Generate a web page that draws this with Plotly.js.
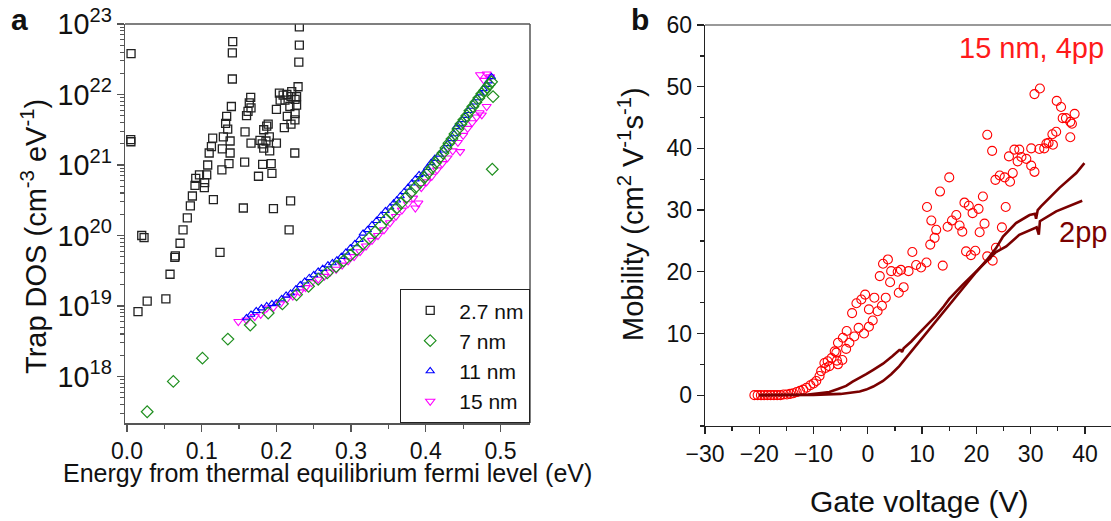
<!DOCTYPE html>
<html>
<head>
<meta charset="utf-8">
<script src="https://cdn.plot.ly/plotly-3.0.1.min.js"></script>
<style>html,body{margin:0;padding:0;background:#fff;}#chart{width:1111px;height:521px;}</style>
</head>
<body>
<div id="chart"></div>
<script>
// ---------- Panel a : trap DOS (log10 values) ----------
const sq27E = [0.0054,0.005,0.0052,0.0197,0.0228,0.1415,0.141,0.141,0.1397,0.1334,0.132,0.1348,0.129,0.138,0.1276,0.138,0.1365,0.127,
  0.1147,0.113,0.11,0.108,0.1067,0.097,0.092,0.104,0.091,0.1035,0.0875,0.0848,0.0807,0.075,0.071,0.0647,0.1156,0.1245,
  0.064,0.0576,0.052,0.027,0.0147,
  0.1656,0.1637,0.166,0.160,0.162,0.158,0.166,0.1575,0.1557,
  0.189,0.187,0.183,0.1905,0.178,0.181,0.186,0.200,0.183,0.191,0.1816,0.193,0.176,0.194,0.196,
  0.204,0.209,0.214,0.2205,0.2195,0.205,0.2115,0.225,0.227,0.200,0.218,0.227,0.2146,0.225,0.2248,0.2106,0.2195,
  0.2307,0.2307,0.230,0.229,0.2246,0.219,0.217];
const sq27Log = [22.58,21.36,21.33,20.00,19.97,22.75,22.59,22.22,21.83,21.69,21.59,21.51,21.40,21.34,21.23,21.17,21.02,20.93,
  21.38,21.26,21.17,21.00,20.86,20.86,20.81,20.75,20.71,20.68,20.56,20.42,20.25,20.08,19.89,19.71,20.51,19.76,
  19.69,19.45,19.10,19.07,18.92,
  21.96,21.88,21.81,21.70,21.76,21.47,21.31,21.04,20.39,
  21.58,21.55,21.50,21.40,21.35,21.30,21.34,21.31,21.24,21.20,21.01,21.02,20.84,20.88,20.38,
  22.02,21.99,22.00,22.04,21.97,21.92,21.92,21.93,21.97,21.79,21.83,21.85,21.69,21.73,21.64,21.53,21.58,
  22.96,22.70,22.46,22.11,21.17,20.49,20.08];

const d7E = [0.027,0.062,0.101,0.135,0.165,0.189,0.208,0.227,0.243,0.256,0.268,0.280,0.290,0.299,0.308,0.316,0.324,0.332,0.340,0.347,
  0.354,0.361,0.367,0.374,0.380,0.386,0.392,0.398,0.403,0.408,0.413,0.418,0.423,0.427,0.431,0.435,0.439,0.443,0.447,0.451,
  0.455,0.459,0.463,0.467,0.471,0.475,0.479,0.482,0.485,0.488,0.490,0.489];
const d7Log = [17.50,17.93,18.26,18.53,18.73,18.90,19.03,19.16,19.28,19.38,19.47,19.56,19.64,19.72,19.80,19.88,19.96,20.05,20.14,20.23,
  20.31,20.39,20.46,20.54,20.61,20.68,20.75,20.82,20.89,20.96,21.03,21.10,21.17,21.24,21.31,21.37,21.44,21.51,21.58,21.64,
  21.70,21.77,21.83,21.89,21.95,22.01,22.06,22.10,22.14,22.18,21.97,20.94];

const t11E = [0.160,0.166,0.173,0.180,0.187,0.194,0.200,0.207,0.213,0.219,0.226,0.232,0.238,0.244,0.250,0.256,0.262,0.269,0.275,0.281,
  0.287,0.293,0.299,0.305,0.311,0.316,0.322,0.328,0.334,0.340,0.346,0.352,0.357,0.361,0.366,0.371,0.376,0.381,0.386,0.391,
  0.397,0.402,0.407,0.412,0.418,0.424,0.429,0.434,0.438,0.441,0.445,0.449,0.453,0.457,0.461,0.465,0.469,0.473,0.477,0.481,0.484,0.488];
const t11Log = [18.83,18.88,18.93,18.97,19.00,19.03,19.04,19.10,19.15,19.18,19.24,19.30,19.35,19.40,19.44,19.49,19.53,19.58,19.61,19.65,
  19.70,19.76,19.82,19.88,19.94,20.03,20.08,20.15,20.21,20.28,20.35,20.40,20.46,20.50,20.56,20.62,20.68,20.74,20.80,20.86,
  20.88,20.96,21.03,21.09,21.15,21.21,21.30,21.37,21.44,21.54,21.58,21.64,21.70,21.77,21.83,21.89,21.95,22.02,22.08,22.14,22.19,22.25];

const t15E = [0.149,0.160,0.171,0.179,0.187,0.196,0.205,0.214,0.222,0.231,0.239,0.247,0.256,0.264,0.272,0.280,0.288,0.296,0.304,0.312,
  0.320,0.328,0.336,0.344,0.352,0.360,0.368,0.376,0.383,0.390,0.386,0.394,0.401,0.408,0.415,0.422,0.429,0.436,0.446,0.443,
  0.450,0.456,0.462,0.468,0.472,0.475,0.4815,0.4726,0.4815,0.486,0.478];
const t15Log = [18.78,18.80,18.85,18.88,18.97,18.98,19.03,19.10,19.14,19.20,19.26,19.33,19.38,19.42,19.48,19.52,19.58,19.64,19.70,19.77,
  19.85,19.93,20.00,20.08,20.18,20.27,20.36,20.45,20.53,20.46,20.39,20.68,20.76,20.84,20.93,21.02,21.10,21.20,21.19,21.32,
  21.42,21.52,21.60,21.68,21.74,21.71,21.83,22.28,22.29,22.25,22.20];

// ---------- Panel b : mobility ----------
const circV = [-20.9,-20.3,-19.7,-19.1,-18.5,-17.9,-17.3,-16.7,-16.1,-15.5,-14.9,-14.3,-13.7,-13.1,-12.5,-11.9,-11.3,-10.6,-10.0,-9.5,
  -8.9,-8.6,-8.0,-7.8,-7.4,-7.1,-6.7,-6.1,-5.8,-5.7,-5.5,-5.5,-4.7,-4.6,-4.0,-3.9,-3.4,-2.9,-2.5,-2.1,
  -1.7,-1.2,-0.7,-0.5,0.2,0.2,0.9,1.2,1.8,2.2,2.6,2.8,3.3,3.7,4.1,4.3,5.5,5.7,6.1,6.6,
  7.5,8.2,8.9,9.8,10.8,10.9,11.5,11.7,12.3,12.6,13.3,13.8,14.7,15.0,15.5,16.3,16.9,17.4,17.8,18.1,
  18.6,19.0,19.3,19.8,20.4,20.6,21.2,21.5,22.0,22.0,23.0,22.9,23.5,23.6,24.3,24.7,25.2,25.4,26.0,26.2,
  26.7,27.0,27.6,27.9,28.3,29.2,30.1,30.1,30.7,30.7,31.7,31.6,32.5,32.9,33.3,34.1,34.0,34.7,34.8,35.6,
  35.9,36.5,37.3,37.6,37.3,38.1];
const circMu = [0.0,0.0,0.0,0.0,0.0,0.0,0.0,0.0,0.0,0.1,0.1,0.2,0.3,0.5,0.7,0.9,1.2,1.6,1.9,2.3,
  3.1,3.9,5.2,4.4,5.5,4.7,6.0,7.1,6.9,5.6,8.5,5.0,5.7,9.3,7.5,10.4,8.5,13.3,9.5,14.9,
  10.9,15.5,10.0,16.3,13.9,11.1,12.1,15.8,13.6,19.3,14.5,21.3,15.8,22.0,18.3,20.1,20.0,16.6,20.3,17.5,
  20.1,23.2,21.1,20.7,21.5,30.5,24.4,28.3,25.5,26.8,33.0,21.0,27.3,35.3,28.3,29.2,27.5,26.5,31.2,23.3,
  30.7,22.7,29.5,23.4,30.2,26.4,32.2,27.8,42.2,22.5,21.8,39.6,34.9,23.9,35.6,27.2,35.3,30.5,38.7,34.6,
  36.0,39.8,37.9,39.8,38.6,38.3,40.0,37.2,36.2,48.8,49.7,39.9,40.0,40.8,40.9,40.6,42.3,42.7,47.7,46.7,
  44.9,44.9,44.3,44.0,41.8,45.6];

const line1V  = [-20,-15,-11,-9,-7.1,-5.5,-4.0,-2.8,-1.5,-0.3,1.0,2.8,4.5,5.8,6.1,6.3,6.6,8.0,9.5,11.0,12.5,14.0,15.0,17.5,20.0,22.0,23.6,25.5,27.9,30.1,31.1,31.5,31.7,34.7,37.1,39.5];
const line1Mu = [0,0,0.1,0.3,0.5,1.0,1.5,2.2,2.8,3.4,4.1,5.1,6.3,7.3,7.3,7.0,7.6,8.7,10.1,11.4,12.8,14.4,15.6,17.9,20.0,21.8,23.2,24.1,26.0,26.9,27.2,26.0,28.2,29.8,30.6,31.5];
const line2V  = [-20,-10,-5,-3.4,-1.5,-0.3,1.0,2.8,4.3,5.8,7.0,8.3,9.5,11.0,12.5,14.0,15.0,17.5,20.0,22.0,23.6,24.9,27.3,29.8,30.8,31.0,31.3,31.9,35.3,38.4,39.9];
const line2Mu = [0,0.05,0.2,0.4,0.6,0.9,1.4,2.3,3.4,4.7,6.0,7.4,8.7,10.2,11.8,13.5,14.7,17.4,20.0,22.0,23.8,25.7,27.9,29.2,29.4,28.6,30.0,30.6,33.6,36.0,37.6];

const pow10 = a => a.map(v => Math.pow(10, v));
const FONT = '"Liberation Sans", Arial, sans-serif';
const W = 1111, H = 521;
const px = x => x / W, py = y => 1 - y / H;
const domAx = [px(125), px(530)], domAy = [py(423), py(24)];
const domBx = [px(705), 1], domBy = [py(426), py(25)];
const rangeAx = [-0.0027, 0.5395], rangeAy = [17.34, 23];
const axA = '#555';

const traces = [
  {x: t15E, y: pow10(t15Log), name: '15 nm', legendrank: 4, mode: 'markers', type: 'scatter', xaxis: 'x', yaxis: 'y',
   marker: {symbol: 'triangle-down-open', size: 8, color: '#ff00ff', line: {width: 1.1}}},
  {x: t11E, y: pow10(t11Log), name: '11 nm', legendrank: 3, mode: 'markers', type: 'scatter', xaxis: 'x', yaxis: 'y',
   marker: {symbol: 'triangle-up-open', size: 7, color: '#0000ff', line: {width: 1.1}}},
  {x: d7E, y: pow10(d7Log), name: '7 nm', legendrank: 2, mode: 'markers', type: 'scatter', xaxis: 'x', yaxis: 'y',
   marker: {symbol: 'diamond-open', size: 9, color: '#1f8f1f', line: {width: 1.2}}},
  {x: sq27E, y: pow10(sq27Log), name: '2.7 nm', legendrank: 1, mode: 'markers', type: 'scatter', xaxis: 'x', yaxis: 'y',
   marker: {symbol: 'square-open', size: 8, color: '#222', line: {width: 1.3}}},
  {x: circV, y: circMu, name: '15 nm, 4pp', mode: 'markers', type: 'scatter', xaxis: 'x2', yaxis: 'y2', showlegend: false,
   marker: {symbol: 'circle-open', size: 9, color: '#ff0000', line: {width: 1.1}}},
  {x: line1V, y: line1Mu, name: '2pp a', mode: 'lines', type: 'scatter', xaxis: 'x2', yaxis: 'y2', showlegend: false,
   line: {color: '#7a0000', width: 2.6}},
  {x: line2V, y: line2Mu, name: '2pp b', mode: 'lines', type: 'scatter', xaxis: 'x2', yaxis: 'y2', showlegend: false,
   line: {color: '#7a0000', width: 2.6}}
];

const tickFont = {family: FONT, size: 23, color: '#111'};

function ann(text, x, y, size, color, extra) {
  return Object.assign({text: text, x: px(x), y: py(y), xref: 'paper', yref: 'paper', showarrow: false,
    xanchor: 'center', yanchor: 'middle', font: {family: FONT, size: size, color: color}}, extra || {});
}
function frameLine(x0, y0, x1, y1, color) {
  return {type: 'line', xref: 'paper', yref: 'paper', x0: x0, y0: y0, x1: x1, y1: y1, line: {color: color, width: 1.5}};
}

const layout = {
  width: W, height: H, margin: {l: 0, r: 0, t: 0, b: 0},
  paper_bgcolor: '#fff', plot_bgcolor: '#fff', showlegend: true,
  font: {family: FONT, color: '#111'},
  xaxis: {domain: domAx, anchor: 'y', range: rangeAx, dtick: 0.1, tick0: 0, tickformat: '.1f',
    ticks: 'outside', ticklen: 7, tickwidth: 1.3, tickcolor: axA,
    minor: {dtick: 0.05, ticks: 'outside', ticklen: 4, tickcolor: axA, tickwidth: 1.2},
    showline: true, linecolor: axA, linewidth: 1.5, showgrid: false, zeroline: false, tickfont: tickFont},
  yaxis: {domain: domAy, anchor: 'x', type: 'log', range: rangeAy, dtick: 1, exponentformat: 'power', showexponent: 'all',
    ticks: 'outside', ticklen: 7, tickwidth: 1.3, tickcolor: axA,
    minor: {dtick: 'D1', ticks: 'outside', ticklen: 4, tickcolor: axA, tickwidth: 1.1},
    showline: true, linecolor: axA, linewidth: 1.5, showgrid: false, zeroline: false, tickfont: tickFont},
  xaxis2: {domain: domBx, anchor: 'y2', range: [-30, 44.8], dtick: 10, tick0: 0,
    ticks: 'outside', ticklen: 7, tickwidth: 1.3, tickcolor: '#222',
    minor: {dtick: 5, ticks: 'outside', ticklen: 4, tickcolor: '#222'},
    showline: true, linecolor: '#222', linewidth: 1.4, showgrid: false, zeroline: false, tickfont: tickFont},
  yaxis2: {domain: domBy, anchor: 'x2', range: [-5, 60], dtick: 10, tick0: 0,
    ticks: 'outside', ticklen: 7, tickwidth: 1.3, tickcolor: '#222',
    minor: {dtick: 5, ticks: 'outside', ticklen: 4, tickcolor: '#222'},
    showline: true, linecolor: '#222', linewidth: 1.3, showgrid: false, zeroline: false, tickfont: tickFont},
  legend: {x: px(530), xanchor: 'right', y: py(423), yanchor: 'bottom', bgcolor: '#fff',
    bordercolor: '#222', borderwidth: 1.2, font: {family: FONT, size: 21, color: '#111'},
    tracegroupgap: 0, itemwidth: 48, traceorder: 'normal'},
  shapes: [
    frameLine(domAx[0], domAy[1], domAx[1], domAy[1], axA),
    frameLine(domAx[1], domAy[0], domAx[1], domAy[1], axA),
    frameLine(domBx[0], domBy[1], domBx[1], domBy[1], '#777')
  ],
  annotations: [
    ann('<b>a</b>', 19, 20, 30, '#111'),
    ann('<b>b</b>', 640, 20, 30, '#111'),
    ann('Trap DOS (cm<sup>-3</sup> eV<sup>-1</sup>)', 34, 237, 29, '#111', {textangle: -90}),
    ann('Energy from thermal equilibrium fermi level (eV)', 327, 473, 25, '#111'),
    ann('Mobility (cm<sup>2</sup> V<sup>-1</sup>s<sup>-1</sup>)', 631, 214, 29, '#111', {textangle: -90}),
    ann('Gate voltage (V)', 919, 501, 30, '#111'),
    ann('15 nm, 4pp', 1106, 48, 29, '#ff1a1a', {xanchor: 'right'}),
    ann('2pp', 1057, 232, 29, '#7a0000', {xanchor: 'left'})
  ]
};

Plotly.newPlot('chart', traces, layout, {displayModeBar: false, staticPlot: true});
</script>
</body>
</html>
